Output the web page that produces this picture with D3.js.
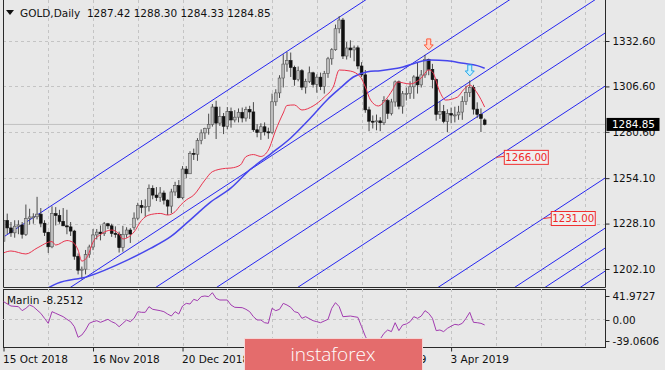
<!DOCTYPE html>
<html>
<head>
<meta charset="utf-8">
<script src="https://cdn.jsdelivr.net/npm/d3@7/dist/d3.min.js"></script>
<style>
  body { margin: 0; background: #e8e8e8; }
  svg { display: block; font-family: 'DejaVu Sans', sans-serif; }
</style>
</head>
<body>
<svg id="chart" width="665" height="370"></svg>
<script>
// ---- data ----
const barOpen = [
  1218.0,1229.9,1225.6,1222.8,1226.6,1227.3,1221.9,1230.9,1231.9,1232.0,
  1233.5,1228.3,1223.1,1214.8,1233.8,1232.7,1229.4,1226.8,1226.2,1223.8,
  1209.4,1201.4,1202.0,1210.3,1214.7,1221.6,1223.2,1222.3,1228.0,1226.8,
  1222.5,1222.0,1214.3,1221.9,1224.4,1226.0,1231.2,1238.5,1237.4,1237.9,
  1248.3,1244.4,1243.0,1245.6,1241.5,1238.1,1246.2,1249.8,1242.9,1259.3,
  1256.6,1268.3,1267.8,1275.6,1280.0,1282.5,1284.9,1294.8,1285.6,1289.3,
  1283.8,1292.2,1287.4,1289.0,1291.8,1288.5,1293.4,1292.0,1281.8,1280.2,
  1283.5,1280.6,1280.3,1297.8,1302.9,1311.4,1319.4,1321.4,1317.5,1310.5,
  1315.6,1306.2,1309.5,1314.4,1307.8,1311.9,1306.5,1314.1,1322.4,1327.6,
  1339.6,1344.6,1324.0,1328.6,1327.5,1328.7,1318.3,1313.2,1293.2,1286.7,
  1286.5,1286.9,1285.8,1298.5,1291.2,1297.7,1309.2,1295.3,1302.4,1302.6,
  1306.4,1312.0,1307.5,1313.2,1322.0,1316.4,1310.5,1290.6,1292.3,1286.6,
  1291.1,1290.2,1290.3,1291.9,1297.9,1303.1,1306.1,1293.6,1290.6,1287.42
];
const barHigh = [
  1233.3,1233.8,1229.0,1230.0,1230.0,1229.0,1239.0,1236.6,1234.0,1243.4,
  1237.0,1230.0,1223.5,1238.0,1237.5,1236.0,1237.0,1236.0,1229.0,1224.5,
  1211.0,1203.5,1213.0,1216.0,1225.0,1225.0,1227.0,1229.0,1228.5,1228.0,
  1226.5,1223.5,1226.8,1226.0,1225.5,1234.5,1240.0,1241.5,1242.0,1250.5,
  1250.0,1249.0,1249.0,1247.0,1242.0,1248.0,1252.0,1253.0,1261.0,1261.0,
  1269.5,1271.0,1277.0,1282.0,1283.0,1291.0,1296.5,1298.4,1295.0,1291.4,
  1294.8,1294.5,1293.0,1294.0,1294.5,1295.0,1295.5,1297.6,1285.0,1285.5,
  1286.0,1283.0,1302.5,1305.0,1313.0,1325.0,1326.3,1326.0,1318.5,1318.0,
  1316.5,1311.0,1318.0,1315.0,1313.5,1314.5,1315.5,1323.5,1328.5,1342.0,
  1346.8,1345.8,1332.0,1333.0,1330.0,1330.0,1320.5,1316.0,1295.0,1290.0,
  1290.5,1289.0,1301.0,1299.5,1299.5,1310.0,1310.0,1304.0,1306.0,1309.5,
  1313.0,1320.5,1316.0,1324.7,1322.5,1319.5,1311.0,1298.0,1296.0,1293.5,
  1294.5,1295.0,1295.5,1301.0,1307.0,1310.0,1307.5,1297.5,1294.0,1288.30
];
const barLow = [
  1217.0,1222.0,1220.5,1220.0,1222.0,1219.5,1221.0,1227.5,1228.0,1230.5,
  1226.0,1221.0,1211.3,1214.0,1227.0,1228.0,1227.0,1222.0,1221.0,1207.4,
  1199.0,1196.1,1199.0,1208.5,1212.9,1219.0,1218.5,1221.0,1225.0,1220.5,
  1220.0,1211.5,1212.0,1220.0,1217.0,1224.5,1230.0,1234.0,1232.0,1235.0,
  1242.0,1241.0,1240.5,1239.0,1233.0,1234.0,1244.0,1242.5,1242.0,1254.0,
  1256.5,1264.5,1264.0,1273.5,1276.5,1279.0,1283.6,1276.5,1284.0,1279.3,
  1282.0,1283.0,1286.0,1286.0,1286.0,1286.5,1288.0,1280.6,1277.5,1276.0,
  1278.5,1276.6,1279.5,1295.5,1300.0,1306.0,1315.0,1312.0,1307.0,1309.5,
  1304.5,1302.5,1308.5,1306.0,1303.0,1304.5,1302.5,1311.5,1319.0,1327.0,
  1337.0,1322.3,1322.0,1323.0,1321.0,1316.5,1312.0,1291.5,1281.0,1282.5,
  1281.5,1281.0,1284.5,1288.0,1290.0,1295.0,1293.5,1291.0,1298.5,1299.5,
  1299.5,1302.5,1306.0,1311.5,1313.0,1305.5,1287.0,1288.0,1285.5,1280.5,
  1285.5,1286.0,1287.5,1287.5,1296.0,1300.5,1290.5,1288.5,1280.5,1284.33
];
const barClose = [
  1229.9,1225.6,1222.8,1226.6,1227.3,1221.9,1230.9,1231.9,1232.0,1233.5,
  1228.3,1223.1,1214.8,1233.8,1232.7,1229.4,1226.8,1226.2,1223.8,1209.4,
  1201.4,1202.0,1210.3,1214.7,1221.6,1223.2,1222.3,1228.0,1226.8,1222.5,
  1222.0,1214.3,1221.9,1224.4,1222.1,1231.2,1238.5,1237.4,1237.9,1248.3,
  1244.4,1243.0,1245.6,1241.5,1238.1,1246.2,1249.8,1242.9,1259.3,1256.6,
  1268.3,1267.8,1275.6,1280.0,1282.5,1284.9,1294.8,1285.6,1289.3,1283.8,
  1292.2,1287.4,1289.0,1291.8,1288.5,1293.4,1292.0,1281.8,1280.2,1283.5,
  1280.6,1280.3,1297.8,1302.9,1311.4,1319.4,1321.4,1317.5,1310.5,1315.6,
  1306.2,1309.5,1314.4,1307.8,1311.9,1306.5,1314.1,1322.4,1327.6,1339.6,
  1344.6,1324.0,1328.6,1327.5,1328.7,1318.3,1313.2,1293.2,1286.7,1286.5,
  1286.9,1285.8,1298.5,1291.2,1297.7,1309.2,1295.3,1302.4,1302.6,1306.4,
  1312.0,1307.5,1313.2,1322.0,1316.4,1310.5,1290.6,1292.3,1286.6,1291.1,
  1290.2,1290.3,1291.9,1297.9,1303.1,1306.1,1293.6,1290.6,1288.3,1284.85
];

const dateTicks = [0, 24, 48, 72, 96, 120];
const dateLabels = ['15 Oct 2018', '16 Nov 2018', '20 Dec 2018', '25 Jan 2019', '28 Feb 2019', '3 Apr 2019'];
const priceTicks = [1332.60, 1306.60, 1280.60, 1254.10, 1228.10, 1202.10];

// red "balance" line
const balanceBar = [0,2,6,9,13,14,17,18.5,20,21,22.5,24,26,29,31,32,33.5,35,37,39,
  42,44,46,47.5,49,51,54,56,59.5,61,63.5,65,67,69,71,73,75,76,78,80,
  83,86,88.5,90,93,95.7,97,98.4,100.5,102.4,104.3,105.6,109,112,114,115,117,118.5,121.7,123.3,
  125,127,129];
const balanceVal = [1211.3,1212.4,1210.7,1214.1,1217.8,1215.8,1218.4,1217.5,1212.9,1206.6,
  1209.2,1217.5,1221.8,1224.4,1222.1,1219.3,1220.4,1223.3,1229.9,1233.0,
  1233.9,1233.0,1234.9,1238.7,1241.6,1244.4,1253.0,1257.8,1259.7,1259.9,
  1261.6,1266.4,1267.6,1266.5,1270.2,1281.7,1291.4,1295.7,1296.0,1293.1,
  1295.4,1300.5,1306.8,1316.0,1315.4,1312.0,1306.3,1298.8,1295.4,1298.8,
  1304.6,1309.1,1308.0,1311.4,1316.0,1314.9,1303.4,1298.8,1300.5,1304.6,
  1307.4,1302.8,1294.8];

// blue slow line
const kruzBar = [10,14.4,22.4,33.2,39.4,44.8,50,55.5,61,66,71.6,77,82.3,87,90.3,93.8,97.6,101,105.6,114.5,119,123.3,127,129];
const kruzVal = [1188.9,1193.9,1197.7,1207.2,1213.9,1220.6,1230.1,1240.4,1248.5,1258.8,1267.9,1277.1,1288.5,1299.4,1305.7,1312.0,1315.0,1315.6,1317.0,1321.7,1321.3,1319.8,1318.5,1317.0];

// Marlin oscillator
const marlinBar = [0,2,4,5,6,7,8,9,10,11,12,13,14,16,17,18,19,20,21,22,
  23,24,25,26,28,29,30,31,32,33,34,35,36,37,38,39,40,42,43,44,
  45,46,47,48,49,50,51,52,53,54,55,56,57,58,60,61,62,64,65,66,
  67,68,69,70,71,72,73,74,75,76,77,78,79,80,81,83,84,85,87,88,
  89,90,91,93,94,95,96,97,98,99,100,101,102,103,104,105,106,107,108,109,
  110,111,112,113,114,115,116,117,118,119,120,121,122,123,124,125,126,127,128,129];
const marlinVal = [24.3,18.2,17.3,11.7,15.0,19.6,17.3,12.6,8.0,1.0,-6.0,10.3,8.0,3.3,-0.4,-3.7,-10.7,-25.5,-22.3,-15.3,
  -6.0,-3.7,-2.3,-4.6,-0.4,-3.7,-6.0,-10.7,-6.0,-1.3,-3.7,1.0,10.3,9.4,9.4,17.3,13.6,11.7,10.3,7.0,
  4.2,10.3,7.0,18.2,21.9,21.0,27.5,25.7,31.3,32.2,31.3,36.8,28.9,26.6,26.6,19.6,16.4,15.9,13.6,10.3,
  3.3,-1.3,-1.3,-5.1,-6.0,15.0,11.7,13.6,21.9,19.6,16.4,10.3,8.9,1.0,3.3,-2.3,-3.7,-5.1,-0.4,15.0,
  22.9,17.3,3.3,4.2,3.3,2.4,-10.7,-24.0,-34.0,-39.0,-36.0,-28.0,-20.0,-15.3,-17.6,-5.1,-16.2,-8.3,-6.9,-3.7,
  3.3,1.0,4.2,11.7,8.0,1.0,-16.2,-15.3,-17.6,-13.0,-10.0,-7.4,-8.3,-6.0,1.0,9.4,-4.6,-5.1,-6.0,-8.2512];
const marlinTicks = [41.9727, 0, -39.0606];
const marlinTickText = ['41.9727', '0.00', '-39.0606'];

// parallel channel lines: price at bar 0, common slope per bar
const channelBase = [1220.4, 1166.5, 1134.5, 1111.7, 1081.3, 1028.7, 1000.0, 988.6, 975.4];
const channelSlope = 1.398;

const levelPrice = [1266.00, 1231.00];
const levelChannel = [4, 5];

const arrowBar = [114, 125];
const arrowTip = [1327.5, 1312.6];

const lastPrice = 1284.85;
const titleText = 'GOLD,Daily  1287.42 1288.30 1284.33 1284.85';

// ---- layout ----
const left = 3, right = 605;
const mainTop = 0, mainBottom = 287;
const subTop = 289, subBottom = 347;

const x = d3.scaleLinear().domain([0, 129]).range([3.5, 3.5 + 129 * 3.73]);
const y = d3.scaleLinear().domain([1202.1, 1332.6]).range([269, 41]);
const ym = d3.scaleLinear().domain([-39.0606, 41.9727]).range([subBottom, subTop]);

const svg = d3.select('#chart');
svg.append('rect').attr('width', 665).attr('height', 370).attr('fill', '#e8e8e8');

const defs = svg.append('defs');
defs.append('clipPath').attr('id', 'clipMain')
  .append('rect').attr('x', left).attr('y', mainTop).attr('width', right - left).attr('height', mainBottom - mainTop);
defs.append('clipPath').attr('id', 'clipSub')
  .append('rect').attr('x', left).attr('y', subTop).attr('width', right - left).attr('height', subBottom - subTop);

const gridBars = d3.range(12, 162, 12);
const gridColor = '#c4c4c4';

// main panel
const main = svg.append('g').attr('clip-path', 'url(#clipMain)');

main.append('g').selectAll('line').data(priceTicks).join('line')
  .attr('x1', left).attr('x2', right)
  .attr('y1', d => Math.round(y(d)) + 0.5).attr('y2', d => Math.round(y(d)) + 0.5)
  .attr('stroke', gridColor).attr('stroke-dasharray', '3,3');
main.append('g').selectAll('line').data(gridBars).join('line')
  .attr('x1', d => Math.round(x(d)) + 0.5).attr('x2', d => Math.round(x(d)) + 0.5)
  .attr('y1', mainTop).attr('y2', mainBottom)
  .attr('stroke', gridColor).attr('stroke-dasharray', '3,3');

// bid line
main.append('line')
  .attr('x1', left).attr('x2', right)
  .attr('y1', y(lastPrice)).attr('y2', y(lastPrice))
  .attr('stroke', '#c0c0c0');

// channel lines
main.append('g').selectAll('line').data(channelBase).join('line')
  .attr('x1', x(-10)).attr('y1', d => y(d - 10 * channelSlope))
  .attr('x2', x(200)).attr('y2', d => y(d + 200 * channelSlope))
  .attr('stroke', '#2626f0').attr('stroke-width', 1);

// candles
const bars = barOpen.map((o, i) => ({ i, o, h: barHigh[i], l: barLow[i], c: barClose[i] }));
const candle = main.append('g').selectAll('g').data(bars).join('g');
candle.append('line')
  .attr('x1', d => x(d.i)).attr('x2', d => x(d.i))
  .attr('y1', d => y(d.h)).attr('y2', d => y(d.l))
  .attr('stroke', '#4a4a4a');
candle.append('rect')
  .attr('x', d => x(d.i) - 1.4).attr('width', 2.8)
  .attr('y', d => y(Math.max(d.o, d.c)))
  .attr('height', d => Math.max(1, Math.abs(y(d.o) - y(d.c))))
  .attr('fill', d => d.c >= d.o ? '#bdbdbd' : '#111')
  .attr('stroke', d => d.c >= d.o ? '#555' : '#111')
  .attr('stroke-width', 0.6);

// moving lines
const kruzLine = d3.line().x(d => x(d[0])).y(d => y(d[1])).curve(d3.curveMonotoneX);
main.append('path')
  .datum(kruzBar.map((b, i) => [b, kruzVal[i]]))
  .attr('d', kruzLine).attr('fill', 'none')
  .attr('stroke', '#4646ec').attr('stroke-width', 1.5);
main.append('path')
  .datum(balanceBar.map((b, i) => [b, balanceVal[i]]))
  .attr('d', kruzLine).attr('fill', 'none')
  .attr('stroke', '#e8344e').attr('stroke-width', 1);

// arrows
const arrowStyle = [{ stroke: '#ff5a3c', fill: '#ffd2c4' }, { stroke: '#2aa8e8', fill: '#c4efff' }];
function arrowPath(cx, ty) {
  return `M${cx - 2},${ty - 11}L${cx + 2},${ty - 11}L${cx + 2},${ty - 5}L${cx + 4.5},${ty - 5}` +
    `L${cx},${ty}L${cx - 4.5},${ty - 5}L${cx - 2},${ty - 5}Z`;
}
main.append('g').selectAll('path').data(arrowBar).join('path')
  .attr('d', (d, i) => arrowPath(x(d), y(arrowTip[i])))
  .attr('fill', (d, i) => arrowStyle[i].fill)
  .attr('stroke', (d, i) => arrowStyle[i].stroke).attr('stroke-width', 1);

// level labels on channel lines
levelPrice.forEach((p, k) => {
  const bar = (p - channelBase[levelChannel[k]]) / channelSlope;
  const px = x(bar), py = y(p);
  const g = main.append('g');
  g.append('line').attr('x1', px).attr('y1', py).attr('x2', px + 8).attr('y2', py - 1)
    .attr('stroke', '#f03030');
  g.append('rect').attr('x', px + 8).attr('y', py - 7).attr('width', 44).attr('height', 14)
    .attr('fill', '#efefef').attr('stroke', '#f03030');
  g.append('text').attr('x', px + 30).attr('y', py + 3.7).attr('text-anchor', 'middle')
    .attr('font-size', '10.2px').attr('fill', '#f02828').text(d3.format('.2f')(p));
});

// frames
const frame = svg.append('g').attr('stroke', '#2a2a2a').attr('fill', 'none');
frame.append('path').attr('d', `M${left + 0.5},0V${mainBottom + 0.5}H${right + 0.5}V0`);
frame.append('rect').attr('x', left + 0.5).attr('y', subTop + 0.5)
  .attr('width', right - left).attr('height', subBottom - subTop);

// price axis
const priceAxis = svg.append('g').attr('transform', `translate(${right + 0.5},0)`)
  .call(d3.axisRight(y).tickValues(priceTicks).tickSize(4).tickPadding(3).tickFormat(d3.format('.2f')));
priceAxis.select('.domain').remove();
priceAxis.selectAll('line').attr('stroke', '#2a2a2a');
priceAxis.selectAll('text').attr('font-size', '10.4px').attr('fill', '#111')
  .attr('font-family', "'DejaVu Sans', sans-serif");

// current price box
svg.append('rect').attr('x', right + 1.5).attr('y', y(lastPrice) - 6.5).attr('width', 53).attr('height', 13).attr('fill', '#000');
svg.append('text').attr('x', right + 7).attr('y', y(lastPrice) + 4).attr('font-size', '10.4px')
  .attr('fill', '#fff').text(d3.format('.2f')(lastPrice));

// title
svg.append('path').attr('d', 'M6,10L14,10L10,15Z').attr('fill', '#111');
svg.append('text').attr('x', 20).attr('y', 17).attr('font-size', '10.5px').attr('fill', '#111')
  .attr('xml:space', 'preserve').style('white-space', 'pre').text(titleText);

// Marlin panel
const sub = svg.append('g').attr('clip-path', 'url(#clipSub)');
sub.append('g').selectAll('line').data(gridBars).join('line')
  .attr('x1', d => Math.round(x(d)) + 0.5).attr('x2', d => Math.round(x(d)) + 0.5)
  .attr('y1', subTop).attr('y2', subBottom)
  .attr('stroke', gridColor).attr('stroke-dasharray', '3,3');
sub.append('line').attr('x1', left).attr('x2', right)
  .attr('y1', Math.round(ym(0)) + 0.5).attr('y2', Math.round(ym(0)) + 0.5)
  .attr('stroke', gridColor).attr('stroke-dasharray', '3,3');
sub.append('path')
  .datum(marlinBar.map((b, i) => [b, marlinVal[i]]))
  .attr('d', d3.line().x(d => x(d[0])).y(d => ym(d[1])))
  .attr('fill', 'none').attr('stroke', '#a23cb0').attr('stroke-width', 1);
svg.append('text').attr('x', 7).attr('y', 304).attr('font-size', '10.5px').attr('fill', '#111')
  .text('Marlin ' + marlinVal[marlinVal.length - 1].toFixed(4));

// Marlin scale labels (MT4 pulls the extreme labels inside the window)
const marlinOffset = [7, 0.5, -6];
const mTick = svg.append('g').selectAll('g').data(marlinTicks).join('g')
  .attr('transform', (d, i) => `translate(${right + 0.5},${Math.round(ym(d) + marlinOffset[i]) + 0.5})`);
mTick.append('line').attr('x2', 4).attr('stroke', '#2a2a2a');
mTick.append('text').attr('x', 7).attr('dy', '0.35em').attr('font-size', '10.4px').attr('fill', '#111')
  .text((d, i) => marlinTickText[i]);

// date axis
const dateAxis = svg.append('g').attr('transform', `translate(0,${subBottom + 0.5})`)
  .call(d3.axisBottom(x).tickValues(dateTicks).tickSize(4).tickPadding(4)
    .tickFormat((d, i) => dateLabels[i]));
dateAxis.select('.domain').remove();
dateAxis.selectAll('line').attr('stroke', '#2a2a2a');
dateAxis.selectAll('text').attr('text-anchor', 'start').attr('dx', -1)
  .attr('font-size', '10.5px').attr('fill', '#111')
  .attr('font-family', "'DejaVu Sans', sans-serif");

// watermark
svg.append('rect').attr('x', 244.5).attr('y', 338.5).attr('width', 178).attr('height', 33)
  .attr('fill', '#e46c6c').attr('stroke', '#f4d6d6');
svg.append('text').attr('x', 333).attr('y', 361).attr('text-anchor', 'middle')
  .attr('font-family', "'Open Sans', sans-serif").attr('font-size', '19px').attr('font-weight', 300)
  .attr('fill', '#fff').text('instaforex');
</script>
</body>
</html>
